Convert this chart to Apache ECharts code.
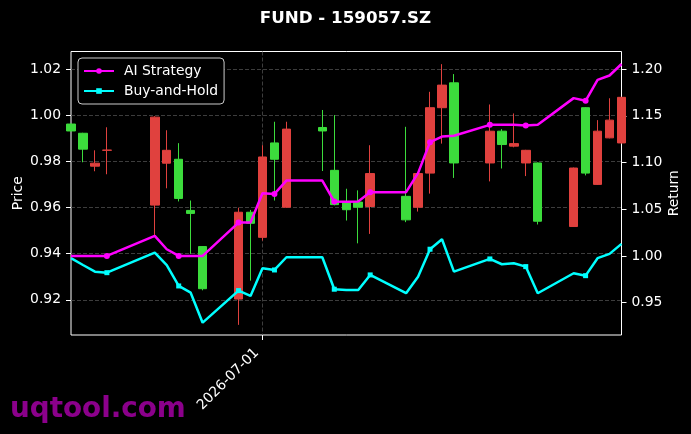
<!DOCTYPE html>
<html>
<head>
<meta charset="utf-8">
<script src="https://cdn.jsdelivr.net/npm/echarts@6/dist/echarts.min.js"></script>
<style>html,body{margin:0;padding:0;background:#000;}#chart{width:691px;height:434px;}</style>
</head>
<body>
<div id="chart"></div>
<script>
const dates = ['2026-06-15','2026-06-16','2026-06-17','2026-06-18','2026-06-22','2026-06-23','2026-06-24','2026-06-25','2026-06-26','2026-06-29','2026-06-30','2026-07-01','2026-07-02','2026-07-03','2026-07-06','2026-07-07','2026-07-08','2026-07-09','2026-07-10','2026-07-13','2026-07-14','2026-07-15','2026-07-16','2026-07-17','2026-07-20','2026-07-21','2026-07-22','2026-07-23','2026-07-24','2026-07-27','2026-07-28','2026-07-29','2026-07-30','2026-07-31'];
const openP  = [0.9933,0.9854,0.9793,0.9850,0.9993,0.9849,0.9640,0.9575,0.9248,0.9580,0.9532,0.9820,0.9810,0.9941,0.9933,0.9613,0.9591,0.9602,0.9748,0.9547,0.9748,1.0034,1.0132,0.9794,0.9932,0.9874,0.9878,0.9849,0.9541,0.9772,0.9750,0.9932,0.9980,1.0079];
const closeP = [0.9963,0.9923,0.9780,0.9849,0.9611,0.9793,0.9810,0.9588,0.9431,0.9203,0.9580,0.9471,0.9881,0.9602,0.9948,0.9762,0.9624,0.9624,0.9605,0.9649,0.9602,0.9750,1.0034,1.0142,0.9794,0.9932,0.9867,0.9794,0.9794,0.9518,1.0034,0.9701,0.9903,0.9881];
const lowP   = [0.9931,0.9797,0.9758,0.9745,0.9479,0.9684,0.9627,0.9399,0.9241,0.9091,0.9283,0.9457,0.9631,0.9599,0.9759,0.9610,0.9544,0.9445,0.9486,0.9537,0.9583,0.9661,0.9878,0.9729,0.9714,0.9770,0.9862,0.9737,0.9527,0.9516,0.9740,0.9699,0.9901,0.9879];
const highP  = [0.9965,0.9925,0.9849,0.9949,0.9997,0.9936,0.9880,0.9631,0.9433,0.9600,0.9590,0.9871,0.9973,0.9973,1.0024,1.0002,0.9682,0.9675,0.9871,0.9951,0.9750,1.0103,1.0223,1.0180,1.0048,0.9941,1.0009,0.9851,0.9796,0.9774,1.0036,0.9980,1.0075,1.0081];
const aiReturn = [1.000,1.000,1.000,1.000,1.0214,1.0072,1.000,1.000,1.000,1.0357,1.0357,1.0672,1.0664,1.0807,1.0807,1.0582,1.0579,1.0582,1.0683,1.0683,1.0886,1.1218,1.1278,1.1286,1.1403,1.1403,1.1403,1.1396,1.1403,1.1689,1.1660,1.1885,1.1931,1.2054];
const bhReturn = [0.9976,0.9903,0.9832,0.9821,1.0036,0.9903,0.9679,0.9607,0.9286,0.9629,0.9572,0.9868,0.9850,0.9986,0.9986,0.9644,0.9636,0.9636,0.9797,0.9601,0.9778,1.0072,1.0179,0.9832,0.9968,0.9911,0.9922,0.9886,0.9601,0.9815,0.9789,0.9976,1.0022,1.0129];
const markerIdx = [3,6,9,12,15,18,21,24,27,30];
const xTickLabels = ['2026-07-01'];
const priceTicks = [0.92,0.94,0.96,0.98,1.00,1.02];
const returnTicks = [0.95,1.00,1.05,1.10,1.15,1.20];

const FONT = "'DejaVu Sans', sans-serif";
function ts(s){ const p = s.split('-').map(Number); return new Date(p[0], p[1]-1, p[2]).getTime(); }
function fmtDate(v){
  const d = new Date(v);
  const p = n => (n<10?'0':'')+n;
  return d.getFullYear()+'-'+p(d.getMonth()+1)+'-'+p(d.getDate());
}
const xs = dates.map(ts);
const candleData = xs.map((x,i)=>[x, openP[i], closeP[i], lowP[i], highP[i]]);
function lineData(arr){
  return xs.map((x,i)=> markerIdx.indexOf(i) >= 0 ? [x, arr[i]] : {value:[x, arr[i]], symbol:'none'});
}

const chart = echarts.init(document.getElementById('chart'), null, {renderer:'canvas'});
chart.setOption({
  backgroundColor:'#000',
  animation:false,
  title:{text:'FUND - 159057.SZ', left:'center', top:10, padding:0,
    textStyle:{color:'#fff', fontWeight:'bold', fontSize:16.7, fontFamily:FONT}},
  legend:{
    left:78, top:58, orient:'vertical',
    padding:[5,6,5,5], itemGap:4, itemWidth:30, itemHeight:7,
    backgroundColor:'#000', borderColor:'#cccccc', borderWidth:1, borderRadius:4,
    textStyle:{color:'#fff', fontSize:13.9, fontFamily:FONT, lineHeight:16, padding:[0,0,0,5]},
    data:['AI Strategy','Buy-and-Hold']
  },
  grid:{left:71, right:69.5, top:51.5, bottom:99, show:true, borderColor:'#fff', borderWidth:1,
    backgroundColor:'transparent', containLabel:false, outerBoundsMode:'none'},
  xAxis:{
    type:'value',
    min:xs[0], max:xs[xs.length-1],
    axisLine:{show:false},
    axisTick:{show:true, length:5, lineStyle:{color:'#fff'}, customValues:xTickLabels.map(ts)},
    axisLabel:{show:true, customValues:xTickLabels.map(ts), rotate:45, color:'#fff', fontSize:13.9, fontFamily:FONT,
      margin:10, padding:[0,8,0,0], formatter:(v)=>fmtDate(v)},
    splitLine:{show:true, lineStyle:{color:'#4d4d4d', type:[4,2], width:0.8}}
  },
  yAxis:[
    {type:'value', position:'left', min:0.9047, max:1.0278,
      name:'Price', nameLocation:'middle', nameGap:46, nameRotate:90, nameMoveOverlap:false,
      nameTextStyle:{color:'#fff', fontSize:13.9, fontFamily:FONT},
      axisLine:{show:false},
      axisTick:{show:true, length:5, lineStyle:{color:'#fff'}, customValues:priceTicks},
      axisLabel:{color:'#fff', fontSize:13.9, fontFamily:FONT, margin:10, customValues:priceTicks, formatter:v=>v.toFixed(2)},
      splitLine:{show:true, lineStyle:{color:'#4d4d4d', type:[4,2], width:0.8}}
    },
    {type:'value', position:'right', min:0.9154, max:1.2188,
      name:'Return', nameLocation:'middle', nameGap:46, nameRotate:90, nameMoveOverlap:false,
      nameTextStyle:{color:'#fff', fontSize:13.9, fontFamily:FONT},
      axisLine:{show:false},
      axisTick:{show:true, length:5, lineStyle:{color:'#fff'}, customValues:returnTicks},
      axisLabel:{color:'#fff', fontSize:13.9, fontFamily:FONT, margin:10, customValues:returnTicks, formatter:v=>v.toFixed(2)},
      splitLine:{show:false}
    }
  ],
  series:[
    {type:'candlestick', name:'Price', yAxisIndex:0, barWidth:9, clip:true,
      itemStyle:{color:'#3cdc3c', color0:'#e0413e', borderColor:'#3cdc3c', borderColor0:'#e0413e', borderWidth:1},
      data:candleData, z:2},
    {type:'line', name:'AI Strategy', yAxisIndex:1, symbol:'circle', symbolSize:6, showAllSymbol:true,
      lineStyle:{color:'#ff00ff', width:2.5}, itemStyle:{color:'#ff00ff'},
      data:lineData(aiReturn), z:4},
    {type:'line', name:'Buy-and-Hold', yAxisIndex:1, symbol:'rect', symbolSize:5, showAllSymbol:true,
      lineStyle:{color:'#00ffff', width:2.5}, itemStyle:{color:'#00ffff'},
      data:lineData(bhReturn), z:3}
  ],
  graphic:[
    {type:'text', left:10, top:396, z:100, silent:true,
      style:{text:'uqtool.com', fill:'#8b008b', font:"bold 27.8px 'DejaVu Sans', sans-serif"}}
  ]
});
</script>
</body>
</html>
